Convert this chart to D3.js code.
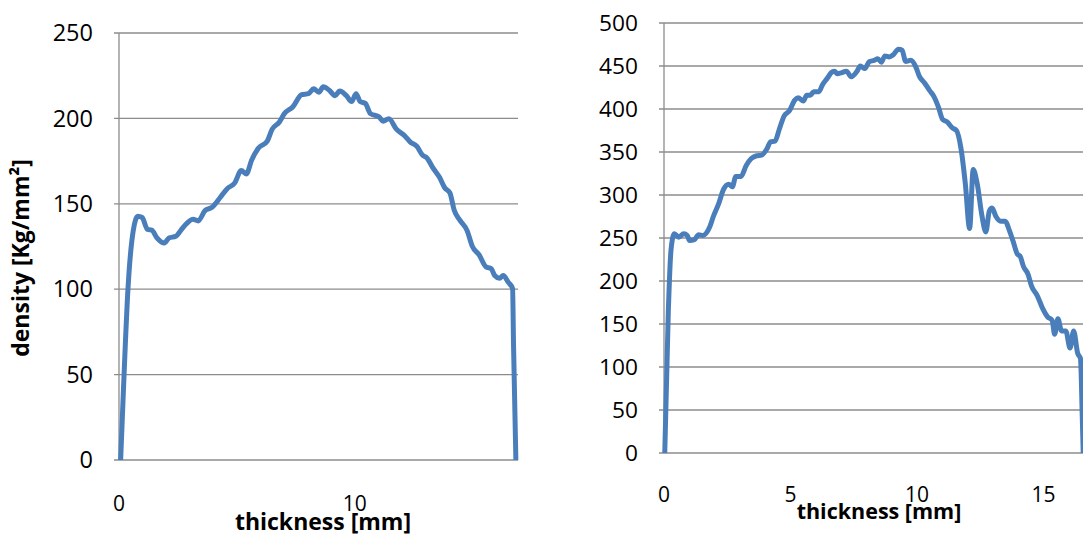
<!DOCTYPE html>
<html>
<head>
<meta charset="utf-8">
<script src="https://cdn.jsdelivr.net/npm/d3@7"></script>
<style>
  body { margin: 0; background: #fff; }
  svg { display: block; }
  .tick-label { font-family: "Open Sans", sans-serif; fill: #000; }
  .axis-title { font-family: "Open Sans", sans-serif; font-weight: bold; fill: #000; }
</style>
</head>
<body>
<div id="chart"></div>
<script>
// pannello sinistro
var leftThickness = [0.07, 0.2, 0.38, 0.58, 0.8, 0.98, 1.21, 1.39, 1.61, 1.92, 2.12, 2.41, 2.71, 3.14, 3.36, 3.65, 3.95, 4.31, 4.6, 4.9, 5.19, 5.4, 5.63, 5.92, 6.29, 6.5, 6.8, 7.02, 7.38, 7.75, 8.04, 8.26, 8.48, 8.67, 8.92, 9.17, 9.36, 9.65, 9.87, 10.06, 10.23, 10.45, 10.67, 11.04, 11.21, 11.45, 11.77, 12.13, 12.35, 12.64, 12.87, 13.08, 13.3, 13.6, 13.82, 14.04, 14.22, 14.47, 14.77, 14.99, 15.28, 15.57, 15.79, 15.94, 16.15, 16.3, 16.52, 16.7, 16.74, 16.84];
var leftDensity = [0, 45, 100, 132, 142.7, 142, 135, 134.6, 130, 127, 130, 131, 136, 141, 140, 146, 148, 154, 159, 162, 169.5, 167.5, 175.6, 182.6, 186.7, 193.7, 197.8, 202.8, 206.8, 213.9, 214.5, 217.3, 215.3, 218.5, 216.5, 213.3, 216, 213.3, 209.9, 214.5, 209.9, 208.8, 202.8, 200.8, 198.4, 199.8, 193.7, 189.7, 186.3, 183.6, 178.6, 176.6, 171.5, 165.5, 159.4, 156.4, 146.4, 140.3, 134.3, 125.2, 120.1, 113.1, 112.1, 108, 106.4, 108, 104, 100.4, 67.7, 0];
var leftYTicks = [0, 50, 100, 150, 200, 250];
var leftXTicks = [0, 10];

// pannello destro
var rightThickness = [0.03, 0.17, 0.28, 0.41, 0.58, 0.78, 0.92, 1.01, 1.2, 1.37, 1.53, 1.81, 1.95, 2.15, 2.36, 2.56, 2.7, 2.84, 3.04, 3.25, 3.45, 3.66, 3.86, 4.07, 4.21, 4.39, 4.55, 4.75, 4.96, 5.16, 5.3, 5.51, 5.64, 5.78, 5.92, 6.12, 6.26, 6.46, 6.6, 6.74, 6.85, 7.0, 7.21, 7.4, 7.63, 7.76, 7.94, 8.11, 8.31, 8.45, 8.59, 8.73, 8.9, 9.06, 9.27, 9.41, 9.55, 9.75, 9.96, 10.09, 10.3, 10.5, 10.64, 10.85, 11.01, 11.19, 11.4, 11.56, 11.74, 11.91, 12.08, 12.22, 12.38, 12.56, 12.72, 12.86, 12.97, 13.11, 13.31, 13.48, 13.66, 13.79, 13.97, 14.07, 14.21, 14.39, 14.52, 14.76, 14.96, 15.16, 15.34, 15.44, 15.57, 15.71, 15.88, 16.05, 16.19, 16.35, 16.46, 16.53, 16.57];
var rightDensity = [0, 164, 237, 255, 251, 255, 253, 247, 248, 253.8, 253, 263, 275, 289, 307, 312.5, 309.6, 321.5, 321.5, 334.4, 342.4, 345.6, 346.4, 353.7, 361.8, 362.6, 375.9, 392, 398, 410, 413, 409.3, 416, 416, 420, 420, 428, 436, 442, 444, 441, 442, 444, 437.5, 444, 450, 447, 455, 456.6, 458.5, 454.5, 461.7, 460.5, 463, 469.6, 468.4, 455.3, 456.6, 448.4, 438.3, 430.3, 421.4, 416, 402, 388, 385, 378, 375, 353.8, 313, 261, 329.6, 313, 277, 257, 281.6, 284.8, 275.6, 269.6, 269.6, 258, 247, 231, 229, 216.7, 207.8, 194.6, 182.5, 168.4, 158.3, 154.3, 138, 156.2, 142, 142, 122, 142, 116, 110, 43.5, 0];
var rightYTicks = [0, 50, 100, 150, 200, 250, 300, 350, 400, 450, 500];
var rightXTicks = [0, 5, 10, 15];

var width = 1083, height = 544;

var svg = d3.select('#chart').append('svg')
    .attr('width', width)
    .attr('height', height);

var panels = [
    {
        xs: leftThickness, ys: leftDensity, yTicks: leftYTicks, xTicks: leftXTicks,
        xDomain: [0, 16.93], xRange: [119, 518],
        yDomain: [0, 250], yRange: [460, 33],
        yFont: 23.5, xFont: 21, xLabOff: 43.5, titleFont: 23,
        yTitle: 'density [Kg/mm²]', titleX: 323, titleY: 522
    },
    {
        xs: rightThickness, ys: rightDensity, yTicks: rightYTicks, xTicks: rightXTicks,
        xDomain: [0, 16.6], xRange: [664, 1084],
        yDomain: [0, 500], yRange: [453, 23],
        yFont: 22.7, xFont: 21, xLabOff: 41.5, titleFont: 21.5,
        yTitle: null, titleX: 879, titleY: 511
    }
];

panels.forEach(function(p) {
    var x = d3.scaleLinear().domain(p.xDomain).range(p.xRange);
    var y = d3.scaleLinear().domain(p.yDomain).range(p.yRange);
    var g = svg.append('g');

    // griglia orizzontale
    g.selectAll('.grid').data(p.yTicks).enter().append('line')
        .attr('x1', p.xRange[0] - 5)
        .attr('x2', p.xRange[1])
        .attr('y1', function(d) { return y(d); })
        .attr('y2', function(d) { return y(d); })
        .attr('stroke', '#8c8c8c')
        .attr('stroke-width', 1.3);

    // asse verticale
    g.append('line')
        .attr('x1', p.xRange[0]).attr('x2', p.xRange[0])
        .attr('y1', p.yRange[0]).attr('y2', p.yRange[1])
        .attr('stroke', '#8c8c8c')
        .attr('stroke-width', 1.3);

    g.selectAll('.ylab').data(p.yTicks).enter().append('text')
        .attr('class', 'tick-label')
        .style('font-size', p.yFont + 'px')
        .attr('x', p.xRange[0] - 26)
        .attr('y', function(d) { return y(d); })
        .attr('dy', '0.35em')
        .attr('text-anchor', 'end')
        .text(function(d) { return d; });

    g.selectAll('.xlab').data(p.xTicks).enter().append('text')
        .attr('class', 'tick-label')
        .style('font-size', p.xFont + 'px')
        .attr('x', function(d) { return x(d); })
        .attr('y', p.yRange[0] + p.xLabOff)
        .attr('dy', '0.35em')
        .attr('text-anchor', 'middle')
        .text(function(d) { return d; });

    g.append('text')
        .attr('class', 'axis-title')
        .style('font-size', p.titleFont + 'px')
        .attr('x', p.titleX)
        .attr('y', p.titleY)
        .attr('dy', '0.35em')
        .attr('text-anchor', 'middle')
        .text('thickness [mm]');

    if (p.yTitle) {
        g.append('text')
            .attr('class', 'axis-title')
            .style('font-size', '23px')
            .attr('transform', 'translate(21,258) rotate(-90)')
            .attr('dy', '0.35em')
            .attr('text-anchor', 'middle')
            .text(p.yTitle);
    }

    var line = d3.line()
        .x(function(d) { return x(d[0]); })
        .y(function(d) { return y(d[1]); })
        .curve(d3.curveMonotoneX);

    g.append('path')
        .datum(d3.zip(p.xs, p.ys))
        .attr('d', line)
        .attr('fill', 'none')
        .attr('stroke', '#4a7ebb')
        .attr('stroke-width', 5)
        .attr('stroke-linejoin', 'round');
});
</script>
</body>
</html>
